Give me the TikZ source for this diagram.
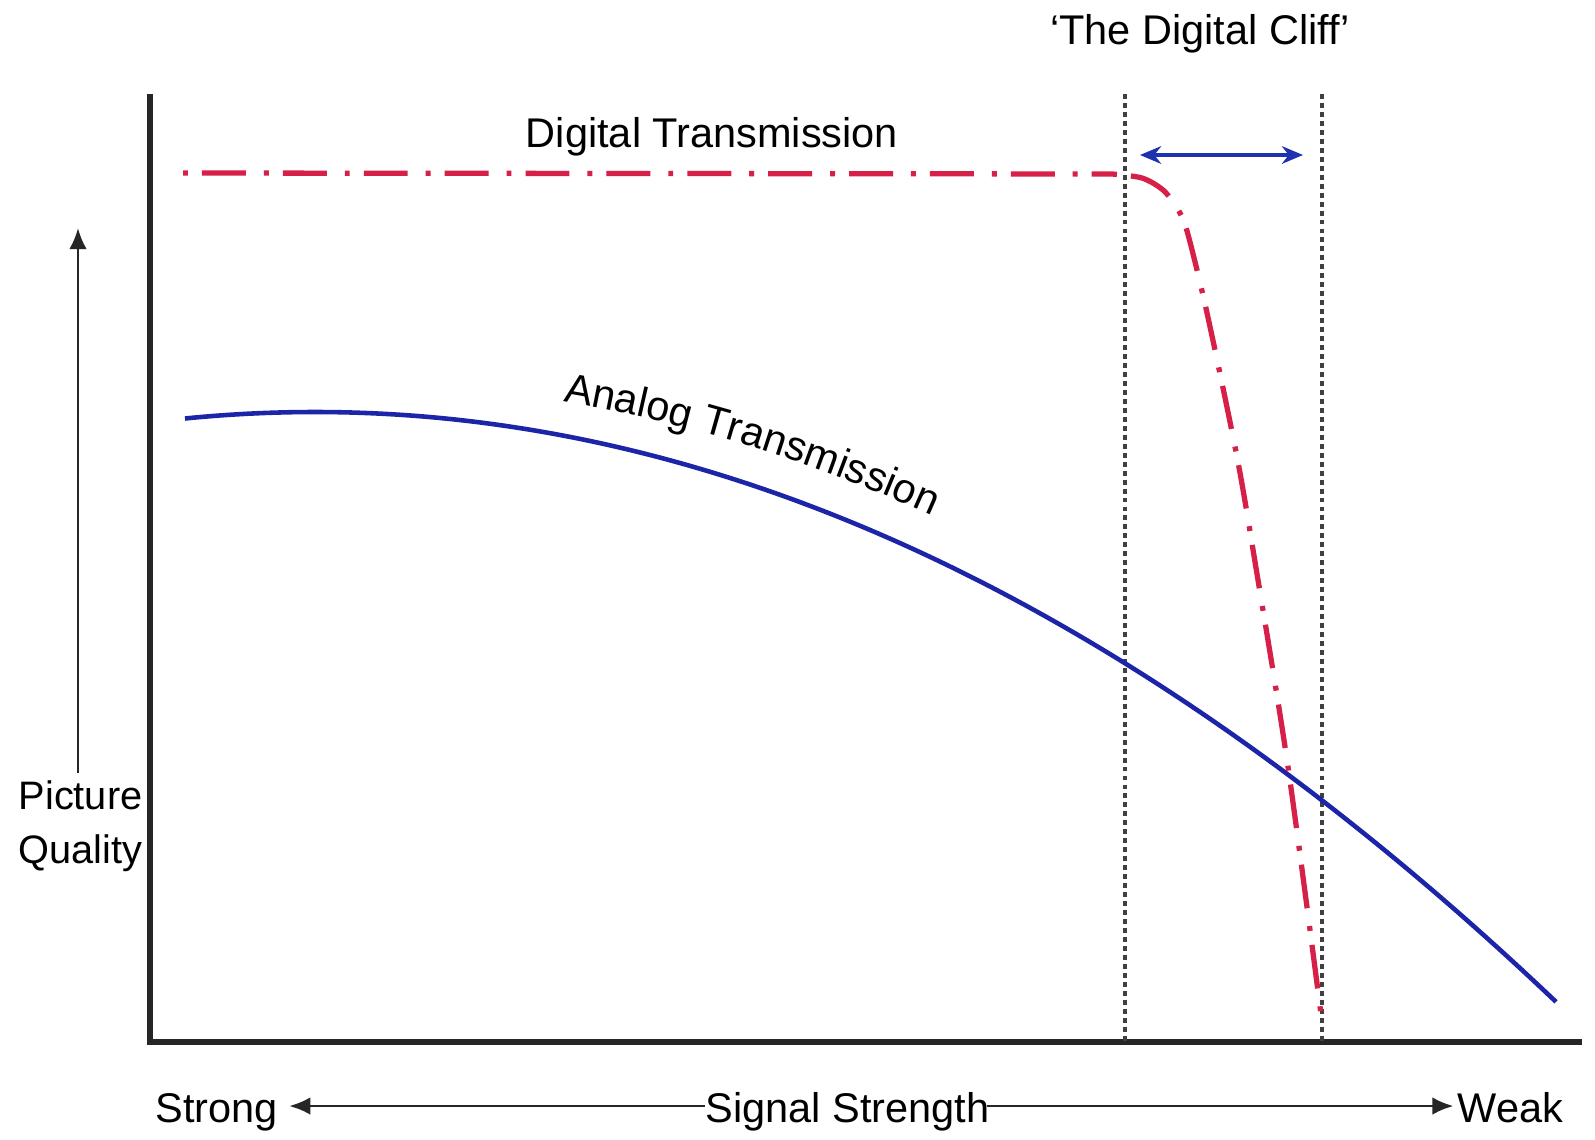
\documentclass[tikz,border=0pt]{standalone}
\usepackage{fontspec}
\setmainfont{Liberation Sans}
\usetikzlibrary{arrows.meta,decorations.text}
\definecolor{cliffred}{RGB}{214,32,72}
\definecolor{analogblue}{RGB}{28,36,168}
\definecolor{arrowblue}{RGB}{30,50,175}
\begin{document}
\begin{tikzpicture}[x=0.01cm, y=-0.01cm,
  lbl/.style={inner sep=0pt, font=\fontsize{11.8}{14}\selectfont},
  sidelbl/.style={inner sep=0pt, font=\fontsize{11.3}{14}\selectfont},
  axisline/.style={line width=1.5pt, black!85, line join=miter},
  guide/.style={line width=1.1pt, black!75, dash pattern=on 1.4pt off 1.15pt},
  digital/.style={line width=1.5pt, cliffred, dash pattern=on 1.4pt off 4pt on 12.5pt off 5.1pt},
  analog/.style={line width=1.3pt, analogblue},
  thinarrow/.style={line width=0.8pt, black!85, -{Latex[length=6pt,width=5pt]}},
  cliffarrow/.style={line width=1pt, arrowblue, {Stealth[length=6pt,width=5pt]}-{Stealth[length=6pt,width=5pt]}}
]
\fill[white] (0,0) rectangle (1595,1139);
\useasboundingbox (0,0) rectangle (1595,1139);

% labels
\node[lbl, anchor=base] (title) at (1200,44) {‘The Digital Cliff’};
\node[lbl, anchor=base] (dig) at (712,147) {Digital Transmission};
\node[sidelbl, anchor=base west] (pic) at (18,809) {Picture};
\node[sidelbl, anchor=base west] (qual) at (18,863) {Quality};
\node[lbl, anchor=base west] (strong) at (155,1122) {Strong};
\node[lbl, anchor=base west] (sig) at (705,1122) {Signal Strength};
\node[lbl, anchor=base west] (weak) at (1457,1122) {Weak};

% axes
\coordinate (ytop) at (150,94);
\coordinate (O) at (150,1042);
\coordinate (xend) at (1582,1042);
\draw[axisline] (ytop) -- (O) -- (xend);

% quality arrow
\coordinate (qa0) at (78,773);
\coordinate (qa1) at (78,228);
\draw[thinarrow] (qa0) -- (qa1);

% signal strength arrows
\coordinate (arrowy) at (0,1106);
\draw[thinarrow] (sig.west |- arrowy) -- ([xshift=3pt]strong.east |- arrowy);
\draw[thinarrow] ([xshift=-1pt]sig.east |- arrowy) -- ([xshift=-1pt]weak.west |- arrowy);

% cliff guides
\coordinate (g1t) at (1125,94);
\coordinate (g1b) at (1125,1042);
\coordinate (g2t) at (1322,94);
\coordinate (g2b) at (1322,1042);
\draw[guide] (g1t) -- (g1b);
\draw[guide] (g2t) -- (g2b);

% cliff width arrow
\coordinate (cl) at (1140,155);
\coordinate (cr) at (1303,155);
\draw[cliffarrow] (cl) -- (cr);

% analog curve
\draw[analog] plot[domain=185:1556, samples=120, smooth] (\x,{412+3.83*((\x-315)/100)^2});

% analog label along the curve
\coordinate (ta0) at (563,401.6);
\coordinate (ta1) at (708.7,426.1);
\coordinate (ta2) at (854.3,474.9);
\coordinate (ta3) at (1000,548.1);
\path[decorate, decoration={text along path,
   text={|\fontsize{11.8}{14}\selectfont|Analog Transmission}, text align=left}]
   (ta0) .. controls (ta1) and (ta2) .. (ta3);

% digital curve
\draw[digital] (183,173) -- (1112,174)
   plot[smooth] coordinates {(1112,174) (1142,178) (1163,190) (1177,208) (1187,231) (1207,313) (1237,457) (1256,568) (1288,767) (1322,1022)};
\end{tikzpicture}
\end{document}
